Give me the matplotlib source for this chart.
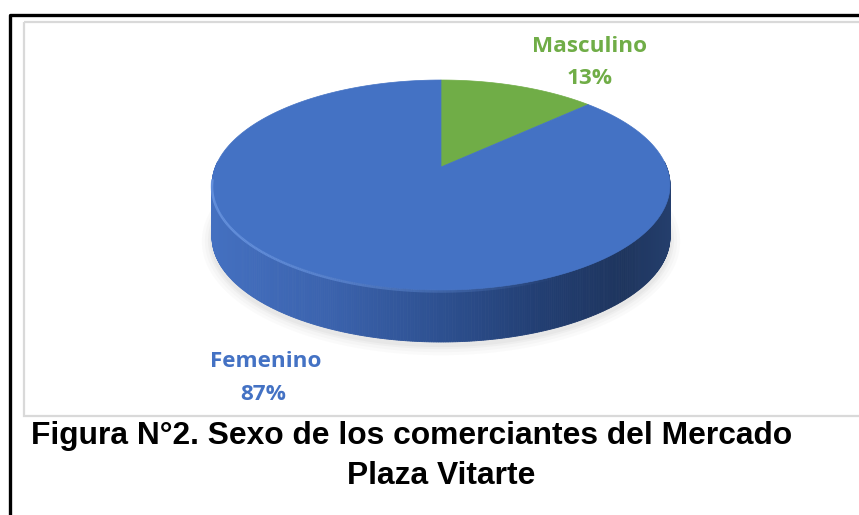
import numpy as np
import matplotlib
matplotlib.use("Agg")
import matplotlib.pyplot as plt
from matplotlib.patches import Polygon, Rectangle
from matplotlib.colors import LinearSegmentedColormap

# ---- data ----
categories = ["Masculino", "Femenino"]
values = [13, 87]
slice_colors = ["#70AD47", "#4472C4"]
label_colors = ["#70AD47", "#4472C4"]
title_line1 = "Figura N°2. Sexo de los comerciantes del Mercado"
title_line2 = "Plaza Vitarte"

W, H = 859, 515
fig = plt.figure(figsize=(W / 100, H / 100), dpi=100)
ax = fig.add_axes([0, 0, 1, 1])
ax.set_xlim(0, W)
ax.set_ylim(H, 0)
ax.axis("off")

# frames
ax.plot([10, 10, W + 5], [H + 5, 14.5, 14.5], color="black", lw=2.4, solid_capstyle="projecting", zorder=1)
ax.add_patch(Rectangle((23.5, 22), W, 394, fill=False, edgecolor="#D9D9D9", lw=1.6, zorder=1))

# ---- perspective pie geometry ----
cx, cy = 441, 167
R, S, K = 225.6, 101.9, 0.1715
DEPTH = 52


def proj(u, v, dy=0.0):
    w = 1 + K * v
    return cx + R * u / w, cy - S * v / w + dy


# angles clockwise from 12 o'clock
fracs = np.array(values, dtype=float) / np.sum(values)
bounds = np.concatenate([[0], np.cumsum(fracs)]) * 2 * np.pi

t_all = np.linspace(0, 2 * np.pi, 721)
ox, oy = proj(np.sin(t_all), np.cos(t_all))

# soft shadow
for grow, a in [(10, 0.03), (7, 0.04), (4, 0.05), (2, 0.06)]:
    sx = cx + (ox - cx) * (1 + grow / R)
    sy = cy + (oy - cy) * (1 + grow / 120) + DEPTH + 3
    ax.add_patch(Polygon(np.c_[sx, sy], closed=True, facecolor="#7F7F7F",
                         edgecolor="none", alpha=a, zorder=2))

# side wall as thin strips with a horizontal gradient
side_cmap = LinearSegmentedColormap.from_list(
    "side", [(0.0, "#4470C0"), (0.25, "#3B63AE"), (0.5, "#2D5090"),
             (0.72, "#223E72"), (0.9, "#1E355E"), (1.0, "#243E6C")])
xmin, xmax = ox.min(), ox.max()
for i in range(len(t_all) - 1):
    if oy[i] < cy - 5 and oy[i + 1] < cy - 5:
        continue
    quad = [(ox[i], oy[i]), (ox[i + 1], oy[i + 1]),
            (ox[i + 1], oy[i + 1] + DEPTH), (ox[i], oy[i] + DEPTH)]
    c = side_cmap(((ox[i] + ox[i + 1]) / 2 - xmin) / (xmax - xmin))
    ax.add_patch(Polygon(quad, closed=True, facecolor=c, edgecolor=c, lw=0.6, zorder=3))

# top face slices
for k in range(len(values)):
    t = np.linspace(bounds[k], bounds[k + 1], 200)
    px, py = proj(np.sin(t), np.cos(t))
    pts = np.vstack([[proj(0, 0)], np.c_[px, py]])
    ax.add_patch(Polygon(pts, closed=True, facecolor=slice_colors[k],
                         edgecolor=slice_colors[k], lw=0.5, zorder=4))

# rim highlight on the front edge
front = oy > cy + 10
idx = np.where(front)[0]
for j in idx[:-1]:
    frac = (ox[j] - xmin) / (xmax - xmin)
    alpha = max(0.0, 0.8 * (1 - frac * 1.3))
    if alpha <= 0:
        continue
    ax.plot(ox[j:j + 2], oy[j:j + 2] + 1.5, color="#6F9BE6", lw=1.8, alpha=alpha,
            solid_capstyle="butt", zorder=5)

# ---- labels ----
label_font = dict(family=["Open Sans", "DejaVu Sans"], fontweight="bold", fontsize=16.2)
ax.text(590, 52, categories[0], color=label_colors[0], ha="center", va="baseline", **label_font)
ax.text(590, 84, f"{values[0]}%", color=label_colors[0], ha="center", va="baseline", **label_font)
ax.text(266, 367, categories[1], color=label_colors[1], ha="center", va="baseline", **label_font)
ax.text(263.5, 400, f"{values[1]}%", color=label_colors[1], ha="center", va="baseline", **label_font)

# ---- caption ----
cap_font = dict(family=["Liberation Sans", "DejaVu Sans"], fontweight="bold", fontsize=22.9, color="black")
ax.text(31, 444, title_line1, ha="left", va="baseline", **cap_font)
ax.text(441, 484, title_line2, ha="center", va="baseline", **cap_font)

fig.savefig("out.png", dpi=100)
